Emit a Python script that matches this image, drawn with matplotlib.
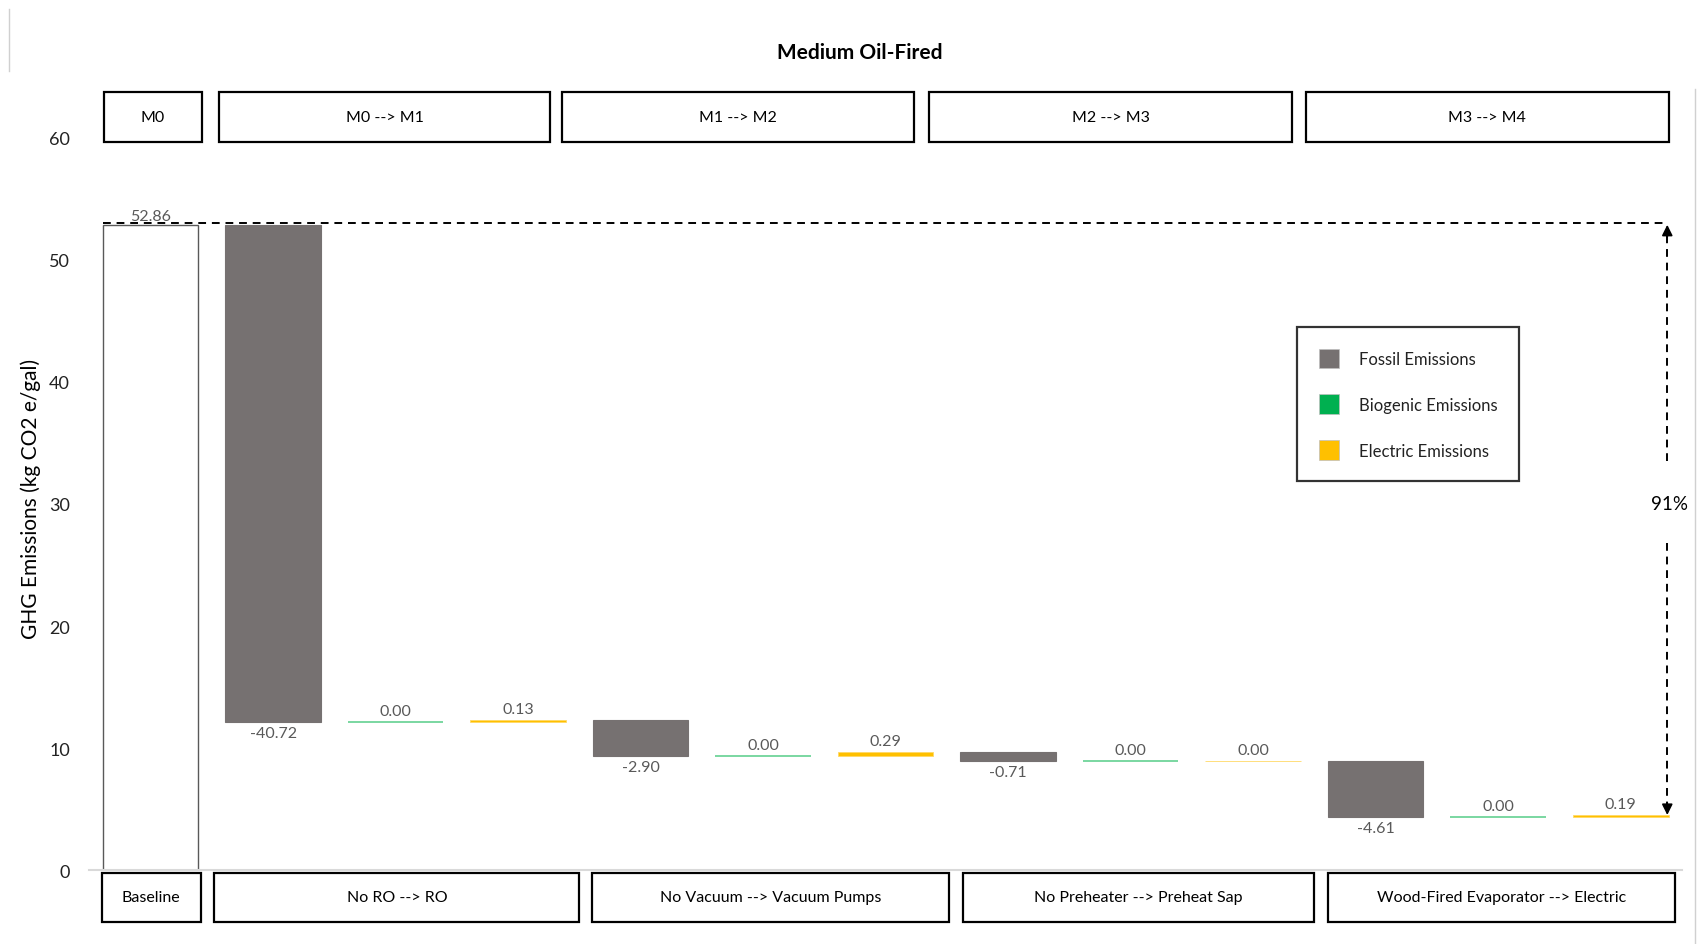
import numpy as np
import matplotlib
matplotlib.use('Agg')
from matplotlib import pyplot as plt
from matplotlib import transforms
from matplotlib.patches import Rectangle, Patch

plt.rcParams['font.family'] = ['Lato', 'DejaVu Sans']

# waterfall data (kg CO2e / gal)
baseline = 52.86
fossil_change = [-40.72, -2.90, -0.71, -4.61]
biogenic_change = [0.00, 0.00, 0.00, 0.00]
electric_change = [0.13, 0.29, 0.00, 0.19]

scenario_labels = ['M0', 'M0 --> M1', 'M1 --> M2', 'M2 --> M3', 'M3 --> M4']
step_labels = ['Baseline', 'No RO --> RO', 'No Vacuum --> Vacuum Pumps',
               'No Preheater --> Preheat Sap', 'Wood-Fired Evaporator --> Electric']
yticks = [0, 10, 20, 30, 40, 50, 60]

c_fossil = '#767171'
c_bio = '#00B050'
c_elec = '#FFC000'
c_label = '#595959'

# header / footer box spans, in category units
top_spans = [(-0.38, 0.42), (0.56, 3.26), (3.36, 6.23), (6.35, 9.32), (9.43, 12.39)]
bot_spans = [(-0.40, 0.41), (0.52, 3.50), (3.60, 6.52), (6.63, 9.50), (9.61, 12.44)]

fig = plt.figure(figsize=(17, 9.45), dpi=100)
ax = fig.add_axes([0.0526, 0.078, 0.9368, 0.7753])
bw = 0.78

# baseline bar
ax.bar(0, baseline, width=bw, color='white', edgecolor='#595959', linewidth=1.0)
ax.annotate(f'{baseline:.2f}', (0, baseline), xytext=(0, 1), textcoords='offset points',
            ha='center', va='bottom', fontsize=11.5, color=c_label)

running = baseline
pos = 1
for f, b, e in zip(fossil_change, biogenic_change, electric_change):
    # fossil drop
    ax.bar(pos, -f, bottom=running + f, width=bw, color=c_fossil, edgecolor=c_fossil, linewidth=0.8)
    running += f
    ax.annotate(f'{f:.2f}', (pos, running), xytext=(0, -3), textcoords='offset points',
                ha='center', va='top', fontsize=11.5, color=c_label)
    pos += 1
    # biogenic
    ax.bar(pos, b, bottom=running, width=bw, color=c_bio, edgecolor='#6FD49A', linewidth=1.3)
    running += b
    ax.annotate(f'{b:.2f}', (pos, running), xytext=(0, 3), textcoords='offset points',
                ha='center', va='bottom', fontsize=11.5, color=c_label)
    pos += 1
    # electric
    ax.bar(pos, e, bottom=running, width=bw, color=c_elec, edgecolor='#FFD966', linewidth=0.6)
    running += e
    ax.annotate(f'{e:.2f}', (pos, running), xytext=(0, 3), textcoords='offset points',
                ha='center', va='bottom', fontsize=11.5, color=c_label)
    pos += 1

final = running
reduction = (baseline - final) / baseline * 100

ax.set_xlim(-0.5, 12.5)
ax.set_ylim(0, 60)
ax.set_xticks([])
ax.set_yticks(yticks)
ax.tick_params(axis='y', length=0, pad=14, labelsize=13, labelcolor='#222222')
for s in ['top', 'right', 'left']:
    ax.spines[s].set_visible(False)
ax.spines['bottom'].set_color('#D9D9D9')
ax.spines['bottom'].set_linewidth(1.5)

# dashed reduction bracket
xr = 12.38
ax.plot([-0.39, xr], [baseline + 0.15, baseline + 0.15], color='black', lw=1.4, dashes=(4, 3), clip_on=False)
ax.plot([xr, xr], [33.5, baseline - 0.8], color='black', lw=1.4, dashes=(4, 3), clip_on=False)
ax.plot([xr, xr], [26.8, final + 0.8], color='black', lw=1.4, dashes=(4, 3), clip_on=False)
ax.annotate('', xy=(xr, baseline), xytext=(xr, baseline - 1.0),
            arrowprops=dict(arrowstyle='-|>', color='black', lw=1.2, mutation_scale=16,
                            shrinkA=0, shrinkB=0), annotation_clip=False)
ax.annotate('', xy=(xr, final), xytext=(xr, final + 1.0),
            arrowprops=dict(arrowstyle='-|>', color='black', lw=1.2, mutation_scale=16,
                            shrinkA=0, shrinkB=0), annotation_clip=False)
ax.text(xr + 0.02, 30.0, f'{reduction:.0f}%', ha='center', va='center', fontsize=13.5, color='black')

# header and footer boxes
trans = transforms.blended_transform_factory(ax.transData, ax.transAxes)
for (x0, x1), lab in zip(top_spans, scenario_labels):
    ax.add_patch(Rectangle((x0, 0.9935), x1 - x0, 0.0684, transform=trans, fill=False,
                           edgecolor='black', lw=1.6, clip_on=False))
    ax.text((x0 + x1) / 2, 1.0277, lab, transform=trans, ha='center', va='center', fontsize=11.5)
for (x0, x1), lab in zip(bot_spans, step_labels):
    ax.add_patch(Rectangle((x0, -0.0705), x1 - x0, 0.0671, transform=trans, fill=False,
                           edgecolor='black', lw=1.6, clip_on=False))
    ax.text((x0 + x1) / 2, -0.037, lab, transform=trans, ha='center', va='center', fontsize=11.5)

fig.text(0.506, 0.944, 'Medium Oil-Fired', ha='center', va='center', fontsize=15, fontweight='bold')
fig.text(0.018, 0.472, 'GHG Emissions (kg CO2 e/gal)', rotation=90, ha='center', va='center', fontsize=15)

handles = [Patch(facecolor=c_fossil, edgecolor='#BFBFBF', lw=0.5, label='Fossil Emissions'),
           Patch(facecolor=c_bio, edgecolor='#BFBFBF', lw=0.5, label='Biogenic Emissions'),
           Patch(facecolor=c_elec, edgecolor='#BFBFBF', lw=0.5, label='Electric Emissions')]
leg = fig.legend(handles=handles, loc='upper left', bbox_to_anchor=(0.763, 0.653),
                 frameon=True, fancybox=False, fontsize=12, handlelength=1.2, handleheight=1.4,
                 labelspacing=1.6, borderpad=1.3, handletextpad=1.2, borderaxespad=0)
leg.get_frame().set_edgecolor('black')
leg.get_frame().set_linewidth(1.6)
for t in leg.get_texts():
    t.set_color('#222222')

# chart-area border remnants
fig.add_artist(plt.Line2D([9 / 1700, 9 / 1700], [1 - 10 / 945, 1 - 72 / 945], color='#D0D0D0', lw=1))
fig.add_artist(plt.Line2D([1695 / 1700, 1695 / 1700], [1 - 90 / 945, 0], color='#D0D0D0', lw=1))

fig.savefig('out.png', dpi=100)
